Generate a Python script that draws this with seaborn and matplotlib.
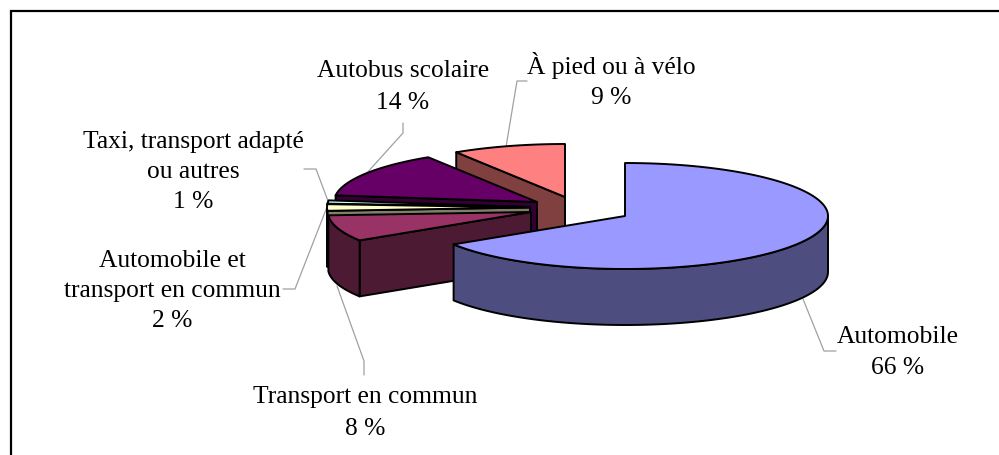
import numpy as np
import matplotlib
matplotlib.use("Agg")
import matplotlib.pyplot as plt
import seaborn as sns

categories = ["Automobile", "Transport en commun", "Automobile et\ntransport en commun",
              "Taxi, transport adapté\nou autres", "Autobus scolaire", "À pied ou à vélo"]
values = [66, 8, 2, 1, 14, 9]
colors = ["#9999FF", "#993366", "#FFFFCC", "#CCFFFF", "#660066", "#FF8080"]

# layout (pixel space of the reference)
apex_x = [625, 531, 530, 530, 537, 565]
apex_y = [217, 213, 208.5, 208, 203, 198]
RX, RY, DEPTH = 203, 53, 56
label_x = [898, 365, 172, 193, 403, 611]
label_base = [343, 403, 267, 148, 77, 74]
label_step = [31, 32, 30, 30, 32, 30]
leaders = [
    [(803, 300), (824, 352), (836, 352)],
    [(337, 287), (364, 362), (364, 376)],
    [(327, 208), (295, 290), (283, 290)],
    [(328, 202), (316, 170), (304, 170)],
    [(366, 175), (403, 134), (403, 124)],
    [(506, 148), (517, 82), (527, 82)],
]

sns.set_theme(style="white")
plt.rcParams["font.family"] = ["Liberation Serif", "DejaVu Serif"]
palette = sns.color_palette(colors)

fig = plt.figure(figsize=(9.99, 4.56), dpi=100, facecolor="white")
ax = fig.add_axes([0, 0, 1, 1])
ax.set_xlim(0, 999)
ax.set_ylim(456, 0)
ax.axis("off")

# frame: only the left and top sides show in the reference
ax.plot([11, 11, 999], [456, 12, 12], color="black", lw=1.6, solid_joinstyle="miter", zorder=1)

edges = np.cumsum([0] + values) * 3.6


def rim(cx, cy, deg):
    t = np.radians(deg)
    return cx + RX * np.sin(t), cy - RY * np.cos(t)


style = dict(edgecolor="black", linewidth=1.4, joinstyle="round")
z = 2
# painted back to front: the slices run clockwise, so the last is farthest
for i in reversed(range(len(values))):
    a0, a1 = edges[i], edges[i + 1]
    cx, cy = apex_x[i], apex_y[i]
    top = np.array(palette[i])
    wall = top * 0.5
    # cut face seen from the front
    for deg, sign in ((a0, 1), (a1, -1)):
        if sign * np.sin(np.radians(deg)) < -1e-6:
            ex, ey = rim(cx, cy, deg)
            ax.fill([cx, ex, ex, cx], [cy, ey, ey + DEPTH, cy + DEPTH], facecolor=wall, zorder=z, **style)
            z += 1
    # outer wall on the near half
    lo, hi = max(a0, 90), min(a1, 270)
    if hi > lo:
        d = np.linspace(lo, hi, 120)
        x, y = rim(cx, cy, d)
        ax.fill(np.r_[x, x[::-1]], np.r_[y, y[::-1] + DEPTH], facecolor=wall, zorder=z, **style)
        z += 1
    # top face
    d = np.linspace(a0, a1, 200)
    x, y = rim(cx, cy, d)
    ax.fill(np.r_[cx, x], np.r_[cy, y], facecolor=top, zorder=z, **style)
    z += 1

for pts in leaders:
    xs, ys = zip(*pts)
    ax.plot(xs, ys, color="#a0a0a0", lw=0.9, zorder=1.5)

for name, v, lx, ly, step in zip(categories, values, label_x, label_base, label_step):
    lines = name.split("\n") + [f"{v} %"]
    for k, line in enumerate(lines):
        ax.text(lx, ly + k * step, line, ha="center", va="baseline", fontsize=18.4, color="black")

fig.savefig("out.png", dpi=100, facecolor="white")
